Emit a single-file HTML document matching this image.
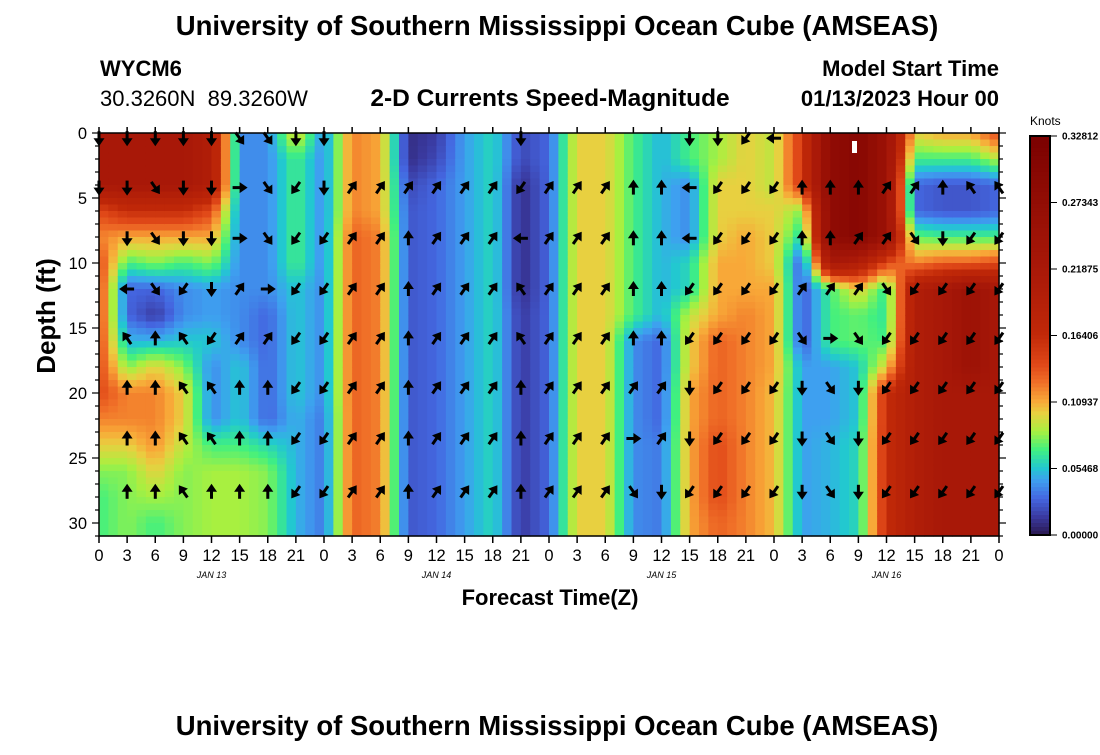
<!DOCTYPE html>
<html><head><meta charset="utf-8">
<style>
body{margin:0;background:#fff;}
svg text{font-family:"Liberation Sans",sans-serif;}
</style></head>
<body>
<svg id="chart" width="1100" height="750" viewBox="0 0 1100 750" xmlns="http://www.w3.org/2000/svg">
<text x="557" y="35" text-anchor="middle" font-size="27.5" font-weight="bold">University of Southern Mississippi Ocean Cube (AMSEAS)</text>
<text x="100" y="76" font-size="22" font-weight="bold">WYCM6</text>
<text x="100" y="106" font-size="22" xml:space="preserve">30.3260N  89.3260W</text>
<text x="550" y="106" text-anchor="middle" font-size="24.5" font-weight="bold">2-D Currents Speed-Magnitude</text>
<text x="999" y="76" text-anchor="end" font-size="22" font-weight="bold">Model Start Time</text>
<text x="999" y="106" text-anchor="end" font-size="22" font-weight="bold">01/13/2023 Hour 00</text>
<text transform="translate(55,316) rotate(-90)" text-anchor="middle" font-size="26" font-weight="bold">Depth (ft)</text>
<text x="550" y="605" text-anchor="middle" font-size="22" font-weight="bold">Forecast Time(Z)</text>
<text x="557" y="735" text-anchor="middle" font-size="27.5" font-weight="bold">University of Southern Mississippi Ocean Cube (AMSEAS)</text>
<text x="1030" y="125" font-size="12">Knots</text>
<g id="heat"></g>
<g id="arrows"></g>
<rect x="852" y="141" width="5" height="12" fill="#fff"/>
<g id="axes"></g>
<g id="cbar"></g>
</svg>
<script>
// depth rows (ft) for speed columns
const depthLevels = [0,2,4,6,8,10,12,14,16,18,20,22,24,26,28,30];
// speed (hundredths of knots) per 3-hour time step, top to bottom
const speedCols = [
[22,22,22,14,12,14,14,14,14,14,14,12,10,8,7,7],
[22,22,22,16,11,7,3,3,5,8,12,12,10,8,8,8],
[22,22,22,16,11,8,3,1.5,5,10,12,12,11.5,10,8.5,7],
[22,22,22,16,11,7,4,4,5.5,8,10,10,9,8,8,8],
[20,20,20,14,11,8,4.5,4.5,5.5,4,4,4,7,8.5,8.5,8.5],
[4,4,4,4,4,4,4,4,4,5.5,5.5,5.5,7,8.5,8.5,8.5],
[4,4,4,4,4,4,4,3,3,3,3,3,6,8,8,8],
[10,7,7,7,7,7,5.5,5.5,5.5,5.5,5.5,5,5,5,5,5],
[4,4,4,4,4,4,4,4,4,4,4,3.5,3.5,3.5,3.5,3.5],
[12,12,12,12,13,13,13,13,13,13,13,13,13,13,13,13],
[11,11,11,11,12,12,12,12,12,12,12,12,12,12,12,12],
[1,1,2,2.5,2.5,2.5,2.5,2.5,2.5,2.5,2.5,2.5,2.5,2.5,2.5,2.5],
[1.5,2,3,3,3,3,3,3,3,3,3,3,3,3,3,3],
[4.5,4.5,4.5,4.5,4.5,4.5,4.5,4.5,4.5,4.5,4.5,4.5,4.5,4.5,4.5,4.5],
[6,6,6,6,6,6,6,6,6,6,6,6,6,6,6,6],
[2,2,1,1,1,1,1,1.5,1.5,1.5,1.5,1.5,1.5,1.5,1.5,1.5],
[3,3,3,3,3,3,3,3,3,3,3,3,3,3,3,3],
[10,10,10,10,10,10,10,10,10,10,10,10,10,10,10,10],
[10,10,10,10,10,10,10,10,10,10,10,10,10,10,10,10],
[7,7,7,7,7,7,7,7,4,4,4,4,4,4,4,4],
[5,5,5,5,5,5,5,5,3,3,3,3,3.5,3.5,3.5,3.5],
[7,7,4,4,4,6,6,9,10,10,11,11,11,11,11,11],
[8.5,8.5,10,10,10,11,11,11,13,13,13,13,14,14,14,13],
[10,10,10,10,11,11,11,12,12,12,12,12,12,12,12,12],
[9,9,9,10,10,10,11,11,11,11,10.5,10.5,10.5,10.5,10.5,10.5],
[15,15,15,8,6,2.5,2.5,2.5,2.5,4.5,4.5,4.5,4.5,4.5,4.5,4.5],
[28,28,28,28,28,22,7,7,7,4.5,4.5,4.5,5,5,5,5],
[30,30,30,30,30,20,10,7.5,7.5,5.5,5.5,5.5,6,6,6,6],
[25,25,25,25,25,14,6.5,6.5,7,10,16,16,16,16,16,16],
[10,7,3,3,7.5,12,20,20,20,20,20,20,20,20,20,20],
[11,7,2.5,2.5,7,13,22,22,22,22,22,22,22,22,22,22],
[11,7,2.5,2.5,7,13,25,25,25,25,22,22,22,22,22,22],
[14,9,3,3,7,14,22,22,22,22,22,22,22,22,22,22]
];
// arrow rows: depth and direction per 3-hour step (u,d,l,r,e=NE,q=NW,c=SE,z=SW,.=none)
const arrowDepths = [0.4,4.2,8.1,12,15.8,19.6,23.5,27.6];
const arrowDirs = [
"dddddccdd......d.....ddzl........",
"ddcddrczdeeeeeezeeeuulzzzuuueeuqq",
".dcddrczzeeueeeleeeuulzzzuueecdzz",
".lczderzzeeueeeqeeeuuzzzzeeeczzzz",
".quqzeezzeeueeeqeeeuuzzzzcrczzzzz",
".uuqquuzzeeueeeueeeeedzzzdcdzzzzz",
".uuqquuzzeeueeeueeeredzzzdcdzzzzz",
".uuquuuzzeeueeeueeecdzzzzdcdzzzzz"
];
const xTickLabels = ["0","3","6","9","12","15","18","21"];
const dayLabels = ["JAN 13","JAN 14","JAN 15","JAN 16"];
const depthTicks = [0,5,10,15,20,25,30];
const cbarLabels = ["0.00000","0.05468","0.10937","0.16406","0.21875","0.27343","0.32812"];

const NS="http://www.w3.org/2000/svg";
const X0=99,X1=999,Y0=133,YB=536;
const xs=t=>X0+(X1-X0)*t/32;
const ys=d=>Y0+13*d;
function mk(tag,attrs,parent){const e=document.createElementNS(NS,tag);for(const k in attrs)e.setAttribute(k,attrs[k]);parent.appendChild(e);return e;}
const stops=[[0,[42,24,80]],[1.5,[58,58,160]],[3,[68,102,224]],[4.5,[62,160,240]],[5.5,[34,200,208]],[7,[64,240,128]],[8.5,[168,240,64]],[10,[232,208,64]],[11,[248,168,56]],[12.5,[240,112,40]],[14,[224,72,24]],[16.5,[192,40,8]],[22,[168,24,8]],[28,[144,12,4]],[33,[122,0,0]]];
function cmap(v){if(v<=stops[0][0])return rgb(stops[0][1]);for(let i=1;i<stops.length;i++){if(v<=stops[i][0]){const a=stops[i-1],b=stops[i],f=(v-a[0])/(b[0]-a[0]);return rgb(a[1].map((c,j)=>c+(b[1][j]-c)*f));}}return rgb(stops[stops.length-1][1]);}
function rgb(c){return "rgb("+c.map(Math.round).join(",")+")";}
function val(t,d){
  const ti=Math.min(Math.floor(t),31),tf=t-ti;
  let di=Math.floor(d/2);if(di>14)di=14;const df=Math.min((d-di*2)/2,1);
  const a=speedCols[ti][di],b=speedCols[ti+1][di],c=speedCols[ti][di+1],e=speedCols[ti+1][di+1];
  return (a*(1-tf)+b*tf)*(1-df)+(c*(1-tf)+e*tf)*df;
}
const heat=document.getElementById('heat');
const nx=96,ny=62;
for(let i=0;i<nx;i++){for(let j=0;j<ny;j++){
  const t=(i+0.5)/3,d=(j+0.5)*31/ny;
  const r=mk('rect',{x:(X0+i*(X1-X0)/nx).toFixed(2),y:(Y0+j*(YB-Y0)/ny).toFixed(2),width:((X1-X0)/nx+0.6).toFixed(2),height:((YB-Y0)/ny+0.6).toFixed(2),fill:cmap(val(t,Math.min(d,30)))},heat);
  
  
}}
const ang={u:-90,d:90,l:180,r:0,e:-55,q:-125,c:55,z:125};
const ag=document.getElementById('arrows');
arrowDirs.forEach((row,ri)=>{for(let t=0;t<33;t++){const ch=row[t];if(!ch||ch==='.')continue;
  const g=mk('g',{transform:`translate(${xs(t).toFixed(1)},${ys(arrowDepths[ri]).toFixed(1)}) rotate(${ang[ch]})`},ag);
  
  
  mk('line',{x1:-7,y1:0,x2:3,y2:0,stroke:'#000','stroke-width':3},g);
  mk('polygon',{points:'8,0 0,-5.5 0,5.5',fill:'#000'},g);
}});
const ax=document.getElementById('axes');
mk('rect',{x:X0,y:Y0,width:X1-X0,height:YB-Y0,fill:'none',stroke:'#000','stroke-width':1.5},ax);
for(let t=0;t<=32;t++){const x=xs(t);
  mk('line',{x1:x,y1:YB,x2:x,y2:YB+7,stroke:'#000','stroke-width':1.5},ax);
  mk('line',{x1:x,y1:Y0,x2:x,y2:Y0-6,stroke:'#000','stroke-width':1.5},ax);
  const tl=mk('text',{x:x,y:561,'text-anchor':'middle','font-size':16.5},ax);tl.textContent=xTickLabels[t%8];
  
  
}
dayLabels.forEach((s,i)=>{const tx=mk('text',{x:xs(4+8*i),y:578,'text-anchor':'middle','font-size':9,'font-style':'italic','font-family':'Liberation Mono, monospace'},ax);tx.textContent=s;
  
  });
for(let d=0;d<=31;d++){const y=ys(d);const L=d%5===0?7:4;
  mk('line',{x1:X0-L,y1:y,x2:X0,y2:y,stroke:'#000','stroke-width':1.2},ax);
  mk('line',{x1:X1,y1:y,x2:X1+L,y2:y,stroke:'#000','stroke-width':1.2},ax);}
depthTicks.forEach(d=>{const tx=mk('text',{x:87,y:ys(d)+6,'text-anchor':'end','font-size':16.5},ax);tx.textContent=d;
  
  });
const cb=document.getElementById('cbar');
const CT=136,CB=535,vmax=32.812;
for(let i=0;i<100;i++){const v=vmax*(1-(i+0.5)/100);mk('rect',{x:1030,y:(CT+i*(CB-CT)/100).toFixed(2),width:20,height:((CB-CT)/100+0.6).toFixed(2),fill:cmap(v)},cb);}
mk('rect',{x:1030,y:CT,width:20,height:CB-CT,fill:'none',stroke:'#000','stroke-width':2},cb);
cbarLabels.forEach((s,i)=>{const y=CB-(CB-CT)*i/6;
  mk('line',{x1:1050,y1:y,x2:1057,y2:y,stroke:'#000','stroke-width':1},cb);
  const tx=mk('text',{x:1062,y:y+3.5,'font-size':10,'font-weight':'bold'},cb);tx.textContent=s;
  
  });
</script>
</body></html>
